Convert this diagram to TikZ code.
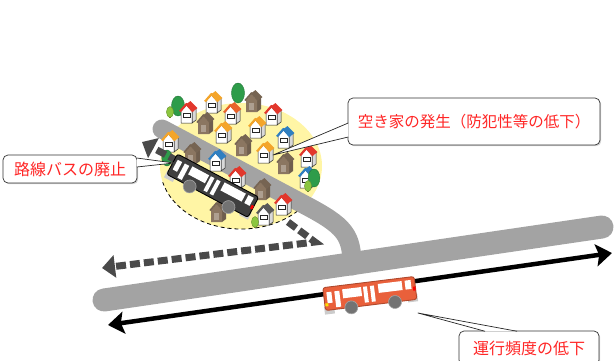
\documentclass[tikz,border=0pt]{standalone}
\usepackage{fontspec}
\newfontfamily\jpfont{Noto Sans CJK JP}
\usepackage{tikz}
\usetikzlibrary{arrows.meta, positioning, shadows}
\usepackage{xcolor}

\definecolor{roadgray}{HTML}{A3A3A3}
\definecolor{routegray}{HTML}{4A4A4A}
\definecolor{areayellow}{HTML}{FFF5A5}
\definecolor{notered}{HTML}{FF2626}
\definecolor{busred}{HTML}{E9603B}
\definecolor{busdark}{HTML}{3F3F3F}
\definecolor{roofor}{HTML}{F4A52A}
\definecolor{roofred}{HTML}{E2372C}
\definecolor{roofblue}{HTML}{2F7FC1}
\definecolor{housebrown}{HTML}{8B7661}
\definecolor{treedark}{HTML}{2E9C4A}
\definecolor{treelight}{HTML}{8CC63F}

\tikzset{%
	road/.style={line width=23pt, roadgray, line cap=round},
	sideroad/.style={line width=19pt, roadgray, line cap=round},
	route/.style={
		line width=7pt,
		routegray,
		dash pattern=on 10pt off 4pt,
		-{Triangle[width=22pt,length=13pt]}
	},
	freq/.style={
		line width=4.5pt,
		{Stealth[width=22pt,length=16pt,inset=3pt]}-{Stealth[width=22pt,length=16pt,inset=3pt]}
	},
	note/.style={
		draw=black!80,
		fill=white,
		rounded corners=5pt,
		line width=0.7pt,
		text=notered,
		inner sep=0pt,
		font=\jpfont\fontsize{16}{19}\selectfont,
		drop shadow={shadow xshift=1.2pt, shadow yshift=-1.2pt, opacity=0.35}
	},
	pointer/.style={draw=black!85, line width=0.7pt, line join=round},
}

% one house with a coloured roof: x, y, roof colour
\newcommand{\whitehouse}[3]{%
	\begin{scope}[shift={(#1,#2)}]
		\filldraw[fill=black!15, draw=black!85, line width=0.5pt] (4,10) -- (4,-2) -- (8,-5) -- (8,7) -- cycle;
		\filldraw[fill=white, draw=black!85, line width=0.5pt] (-7,10) -- (-7,-2) -- (-1.5,-8) -- (4,-2) -- (4,10) -- cycle;
		\fill[#3] (-1.5,-9) -- (2.5,-12) -- (9.5,-5) -- (5,-1.5) -- cycle;
		\draw[#3, line width=2.2pt, line join=round] (-8,-1.5) -- (-1.5,-9) -- (5,-1.5);
		\draw[black!85, line width=0.5pt] (-5,0.5) rectangle (2,4.5);
	\end{scope}
}

% one brown house: x, y
\newcommand{\brownhouse}[2]{%
	\begin{scope}[shift={(#1,#2)}]
		\fill[housebrown!80!black] (4,10) -- (4,-2) -- (8,-5) -- (8,7) -- cycle;
		\fill[housebrown] (-7,10) -- (-7,-2) -- (-1.5,-8) -- (4,-2) -- (4,10) -- cycle;
		\fill[housebrown!85!black] (-1.5,-9) -- (2.5,-12) -- (9.5,-5) -- (5,-1.5) -- cycle;
		\draw[housebrown!85!black, line width=1.6pt, line join=round] (-8,-1.5) -- (-1.5,-9) -- (5,-1.5);
		\fill[housebrown!70!white] (-4,1) rectangle (1,8);
	\end{scope}
}

% a tree: x, y, colour, size
\newcommand{\tree}[4]{%
	\fill[brown!60!black] (#1-0.8,#2) rectangle (#1+0.8,#2+10*#4);
	\filldraw[fill=#3, draw=#3!75!black, line width=0.4pt] (#1,#2) ellipse ({6.5*#4} and {10*#4});
}

% a bus seen from the side: x, y, angle, body, outline, lamp colour
\newcommand{\drawbus}[6]{%
	\begin{scope}[shift={(#1,#2)}, rotate=#3]
		\fill[black!20] (-47,6) rectangle (-37,14);
		\fill[black!20] (37,4) rectangle (47,12);
		\filldraw[fill=#4, draw=#5, line width=0.9pt, rounded corners=2.5pt] (-46,-13) rectangle (46,10);
		% windows and doors
		\fill[white] (-43,-8) rectangle (-38,3);
		\fill[white] (-35,-8) rectangle (-30,8);
		\fill[white] (-27,-9) rectangle (-8,0);
		\fill[white] (-6,-9) rectangle (-2,7);
		\fill[white] (1,-9) rectangle (5,7);
		\fill[white] (9,-10) rectangle (33,-1);
		\fill[white] (36,-10) rectangle (42,-1);
		% lamps
		\fill[#6] (-45.5,3) rectangle (-42.5,6);
		\fill[red] (43.5,-3) rectangle (46,1);
		% wheels
		\filldraw[fill=black!55, draw=black!35, line width=0.6pt] (-20,10) circle (6.5);
		\filldraw[fill=black!55, draw=black!35, line width=0.6pt] (24,10) circle (6.5);
	\end{scope}
}

\begin{document}
\begin{tikzpicture}[x=1pt, y=-1pt]
	\useasboundingbox (0,0) rectangle (615,360);

	% Draw the housing area
	\fill[areayellow] (241,166) ellipse (81 and 63);
	\draw[black, line width=0.8pt, dash pattern=on 4pt off 3pt] (303,206.5) arc[start angle=40, end angle=165, x radius=81, y radius=63];

	% Draw the roads
	\draw[sideroad] (162,129) -- (305,205) .. controls (345,226) and (352,235) .. (352,266);
	\draw[road] (104,300) -- (602,227);

	% Draw houses and trees, back to front
	\tree{238}{93}{treedark}{1}
	\brownhouse{253}{102}
	\whitehouse{213}{103}{roofor}
	\tree{178}{106}{treedark}{1}
	\tree{170}{112}{treelight}{0.55}
	\whitehouse{188}{113}{roofred}
	\whitehouse{232}{114}{roofred!60!roofor}
	\whitehouse{273}{115}{roofred}
	\brownhouse{205}{124}
	\whitehouse{257}{128}{roofor}
	\whitehouse{223}{133}{roofor}
	\whitehouse{285}{138}{roofblue}
	\whitehouse{170}{142}{roofor}
	\brownhouse{243}{146}
	\whitehouse{265}{153}{roofor}
	\brownhouse{192}{154}
	\whitehouse{308}{157}{roofred}
	\tree{167}{158}{treedark}{0.8}
	\whitehouse{217}{161}{roofblue}
	\brownhouse{285}{164}
	\whitehouse{237}{178}{roofred}
	\whitehouse{307}{178}{roofblue}
	\tree{314}{178}{treedark}{0.9}
	\tree{308}{186}{treelight}{0.55}
	\brownhouse{262}{190}
	\whitehouse{283}{205}{roofred}
	\brownhouse{218}{212}
	\whitehouse{265}{215}{black!65}
	\tree{255}{222}{treelight}{0.55}

	% Draw the old bus route
	\coordinate (routeend) at (142,142);
	\coordinate (routeturn) at (315,242);
	\coordinate (routeleft) at (102,268);
	\draw[route] (215,181) -- (routeend);
	\draw[route] (288,222) -- (routeturn) -- (routeleft);
	\drawbus{212}{187}{-28}{busdark}{black}{busdark}

	% Draw the main line and its bus
	\coordinate (lineleft) at (108,325);
	\coordinate (lineright) at (612,253);
	\draw[freq] (lineleft) -- (lineright);
	\drawbus{370}{295}{7}{busred}{busred!75!black}{yellow!80!orange}

	% Draw the notes
	\node[note, minimum width=134pt, minimum height=28pt] (abolish) at (70,169) {路線バスの廃止};
	\node[note, minimum width=252pt, minimum height=47pt, font=\jpfont\fontsize{15.5}{19}\selectfont] (vacant) at (474,121.5) {空き家の発生（防犯性等の低下）};
	\node[note, minimum width=140pt, minimum height=34pt] (reduce) at (529,348) {運行頻度の低下};

	% Draw the pointers of the notes
	\coordinate (abolishtip) at (174,163);
	\coordinate (vacanttip) at (273,155);
	\coordinate (reducetip) at (418,313);
	\fill[white] ([xshift=-0.6pt, yshift=11pt]abolish.east) -- (abolishtip) -- ([xshift=-0.6pt, yshift=2pt]abolish.east) -- cycle;
	\draw[pointer] ([xshift=-0.6pt, yshift=11pt]abolish.east) -- (abolishtip) -- ([xshift=-0.6pt, yshift=2pt]abolish.east);
	\fill[white] ([xshift=0.6pt, yshift=-1.5pt]vacant.west) -- (vacanttip) -- ([xshift=0.6pt, yshift=-15.5pt]vacant.west) -- cycle;
	\draw[pointer] ([xshift=0.6pt, yshift=-1.5pt]vacant.west) -- (vacanttip) -- ([xshift=0.6pt, yshift=-15.5pt]vacant.west);
	\fill[white] ([xshift=-44pt, yshift=-0.6pt]reduce.north) -- (reducetip) -- ([xshift=-12pt, yshift=-0.6pt]reduce.north) -- cycle;
	\draw[pointer] ([xshift=-44pt, yshift=-0.6pt]reduce.north) -- (reducetip) -- ([xshift=-12pt, yshift=-0.6pt]reduce.north);
\end{tikzpicture}
\end{document}
